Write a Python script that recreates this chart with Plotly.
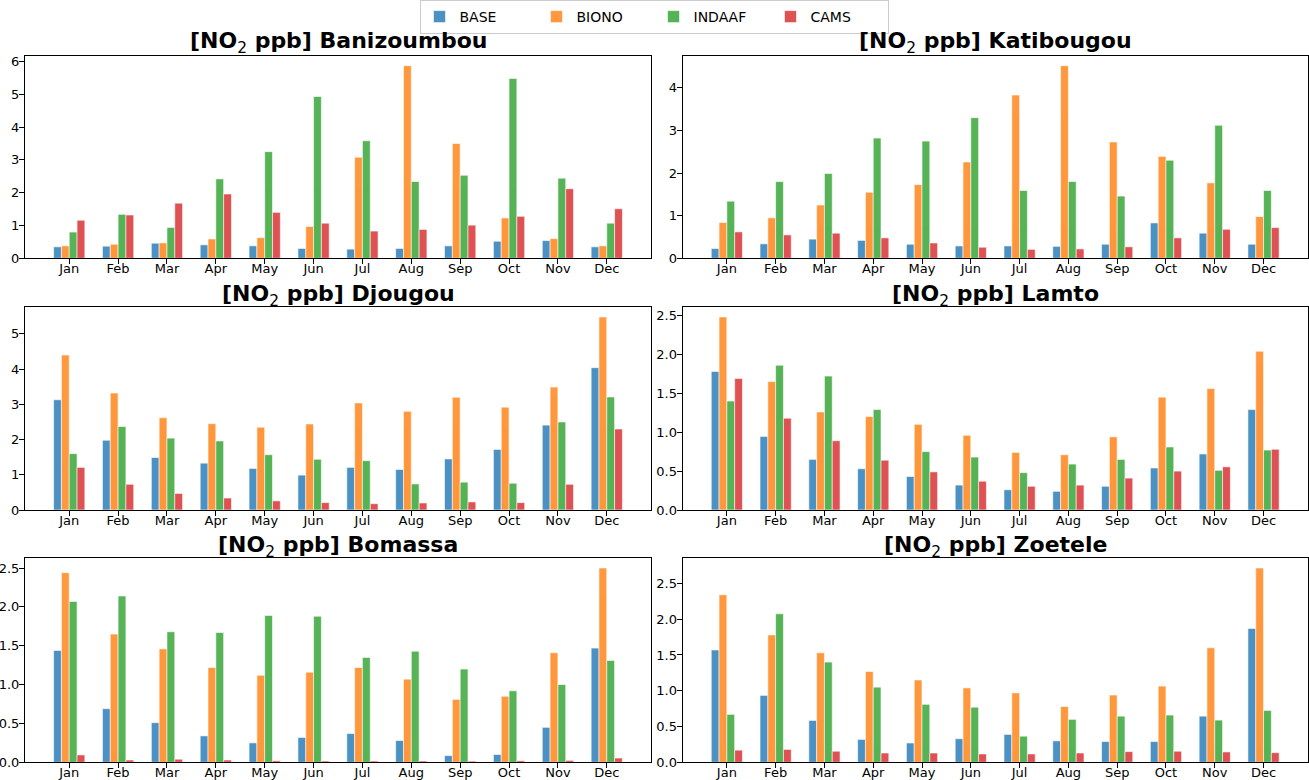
import plotly.graph_objects as go

months = ["Jan", "Feb", "Mar", "Apr", "May", "Jun",
          "Jul", "Aug", "Sep", "Oct", "Nov", "Dec"]
series_names = ["BASE", "BIONO", "INDAAF", "CAMS"]
series_colors = ["#1f77b4", "#ff7f0e", "#2ca02c", "#d62728"]

# monthly NO2 (ppb), one list per series and station
banizoumbou_base = [0.35, 0.37, 0.46, 0.41, 0.38, 0.30, 0.28, 0.30, 0.38, 0.52, 0.54, 0.35]
banizoumbou_biono = [0.38, 0.43, 0.47, 0.59, 0.63, 0.97, 3.08, 5.87, 3.50, 1.23, 0.60, 0.38]
banizoumbou_indaaf = [0.80, 1.34, 0.94, 2.42, 3.25, 4.93, 3.58, 2.34, 2.53, 5.48, 2.44, 1.07]
banizoumbou_cams = [1.16, 1.32, 1.68, 1.96, 1.40, 1.07, 0.83, 0.88, 1.01, 1.28, 2.12, 1.51]

katibougou_base = [0.23, 0.34, 0.45, 0.42, 0.33, 0.29, 0.29, 0.28, 0.33, 0.83, 0.59, 0.33]
katibougou_biono = [0.84, 0.95, 1.25, 1.55, 1.73, 2.26, 3.83, 4.52, 2.73, 2.39, 1.77, 0.98]
katibougou_indaaf = [1.34, 1.80, 1.99, 2.82, 2.75, 3.30, 1.59, 1.80, 1.46, 2.30, 3.12, 1.59]
katibougou_cams = [0.62, 0.55, 0.59, 0.48, 0.36, 0.26, 0.21, 0.22, 0.27, 0.48, 0.68, 0.72]

djougou_base = [3.13, 1.98, 1.49, 1.33, 1.18, 0.99, 1.21, 1.15, 1.45, 1.72, 2.41, 4.04]
djougou_biono = [4.40, 3.32, 2.62, 2.45, 2.35, 2.44, 3.04, 2.80, 3.20, 2.92, 3.49, 5.48]
djougou_indaaf = [1.60, 2.37, 2.04, 1.96, 1.57, 1.44, 1.40, 0.74, 0.79, 0.76, 2.50, 3.21]
djougou_cams = [1.21, 0.73, 0.47, 0.34, 0.26, 0.21, 0.18, 0.20, 0.23, 0.21, 0.73, 2.30]

lamto_base = [1.78, 0.945, 0.65, 0.53, 0.43, 0.32, 0.26, 0.24, 0.305, 0.54, 0.72, 1.29]
lamto_biono = [2.48, 1.65, 1.26, 1.20, 1.10, 0.96, 0.74, 0.71, 0.94, 1.45, 1.56, 2.04]
lamto_indaaf = [1.40, 1.86, 1.72, 1.29, 0.75, 0.68, 0.48, 0.59, 0.65, 0.81, 0.51, 0.77]
lamto_cams = [1.69, 1.18, 0.89, 0.64, 0.49, 0.37, 0.305, 0.32, 0.41, 0.50, 0.555, 0.78]

bomassa_base = [1.44, 0.69, 0.51, 0.34, 0.25, 0.32, 0.37, 0.28, 0.086, 0.10, 0.45, 1.47]
bomassa_biono = [2.44, 1.65, 1.46, 1.22, 1.12, 1.16, 1.22, 1.07, 0.81, 0.85, 1.41, 2.50]
bomassa_indaaf = [2.07, 2.14, 1.68, 1.67, 1.89, 1.88, 1.35, 1.43, 1.20, 0.92, 1.00, 1.31]
bomassa_cams = [0.095, 0.03, 0.04, 0.03, 0.02, 0.017, 0.017, 0.017, 0.015, 0.02, 0.025, 0.055]

zoetele_base = [1.57, 0.935, 0.585, 0.32, 0.27, 0.33, 0.39, 0.30, 0.29, 0.29, 0.645, 1.87]
zoetele_biono = [2.34, 1.78, 1.53, 1.27, 1.15, 1.04, 0.97, 0.78, 0.94, 1.065, 1.60, 2.715]
zoetele_indaaf = [0.67, 2.075, 1.40, 1.05, 0.81, 0.77, 0.365, 0.60, 0.645, 0.66, 0.59, 0.725]
zoetele_cams = [0.17, 0.18, 0.155, 0.13, 0.13, 0.117, 0.117, 0.13, 0.15, 0.155, 0.145, 0.135]

stations = ["Banizoumbou", "Katibougou", "Djougou", "Lamto", "Bomassa", "Zoetele"]
station_data = [
    [banizoumbou_base, banizoumbou_biono, banizoumbou_indaaf, banizoumbou_cams],
    [katibougou_base, katibougou_biono, katibougou_indaaf, katibougou_cams],
    [djougou_base, djougou_biono, djougou_indaaf, djougou_cams],
    [lamto_base, lamto_biono, lamto_indaaf, lamto_cams],
    [bomassa_base, bomassa_biono, bomassa_indaaf, bomassa_cams],
    [zoetele_base, zoetele_biono, zoetele_indaaf, zoetele_cams],
]
y_dticks = [1, 1, 1, 0.5, 0.5, 0.5]

W, H = 1309, 780
# panel frames in pixels (left, right) and (top, bottom)
col_px = [(25, 651), (682.7, 1307.7)]
row_px = [(56, 258.3), (307.3, 510), (558.3, 762.3)]
title_px = [42.5, 295, 546.7]

FONT = "DejaVu Sans"

fig = go.Figure()
x_pos = list(range(len(months)))
annotations = []

for i, name in enumerate(stations):
    r, c = divmod(i, 2)
    n = i + 1
    xa = "x" if n == 1 else f"x{n}"
    ya = "y" if n == 1 else f"y{n}"
    for s, (label, color) in enumerate(zip(series_names, series_colors)):
        fig.add_trace(
            go.Bar(
                x=x_pos, y=station_data[i][s], name=label,
                marker_color=color, opacity=0.8,
                marker_line_color="white", marker_line_width=0.6,
                showlegend=(i == 0), legendgroup=label,
                xaxis=xa, yaxis=ya, offsetgroup=str(s),
            )
        )

    ymax = max(max(v) for v in station_data[i]) * 1.05
    x0, x1 = col_px[c]
    top, bot = row_px[r]
    axis_style = dict(
        showline=True, mirror=True, linecolor="black", linewidth=1.2,
        ticks="outside", ticklen=5, tickwidth=1, tickcolor="black",
        showgrid=False, zeroline=False, automargin=False,
        tickfont=dict(family=FONT, size=13, color="black"),
    )
    fig.layout[f"xaxis{'' if n == 1 else n}"] = dict(
        domain=[x0 / W, x1 / W], anchor=ya,
        tickmode="array", tickvals=x_pos, ticktext=months,
        range=[-0.905, 11.905], ticklabelstandoff=-7,
        **axis_style,
    )
    fig.layout[f"yaxis{'' if n == 1 else n}"] = dict(
        domain=[1 - bot / H, 1 - top / H], anchor=xa,
        range=[0, ymax], dtick=y_dticks[i],
        tickformat=".0f" if y_dticks[i] == 1 else ".1f",
        ticklabelstandoff=-3,
        **axis_style,
    )
    annotations.append(dict(
        text=f"<b>[NO</b><sub>2</sub><b> ppb] {name}</b>",
        x=(x0 + x1) / 2 / W, y=1 - title_px[r] / H,
        xref="paper", yref="paper", xanchor="center", yanchor="middle",
        showarrow=False, font=dict(family=FONT, size=22, color="black"),
    ))

fig.update_layout(
    width=W, height=H,
    margin=dict(l=0, r=0, t=0, b=0),
    template="none",
    plot_bgcolor="white", paper_bgcolor="white",
    barmode="group", bargap=0.36, bargroupgap=0,
    annotations=annotations,
    font=dict(family=FONT, size=13, color="black"),
    legend=dict(
        orientation="h", x=654 / W, xanchor="center", y=1, yanchor="top",
        bordercolor="#cccccc", borderwidth=1, bgcolor="white",
        font=dict(family=FONT, size=14), itemwidth=30,
        entrywidth=72, entrywidthmode="pixels",
        tracegroupgap=0,
    ),
)

# drop the default page margin so the 1309x780 figure fills the window
fig.write_html(
    "out.html",
    config={"displayModeBar": False},
    post_script="document.body.style.margin = '0';",
)
